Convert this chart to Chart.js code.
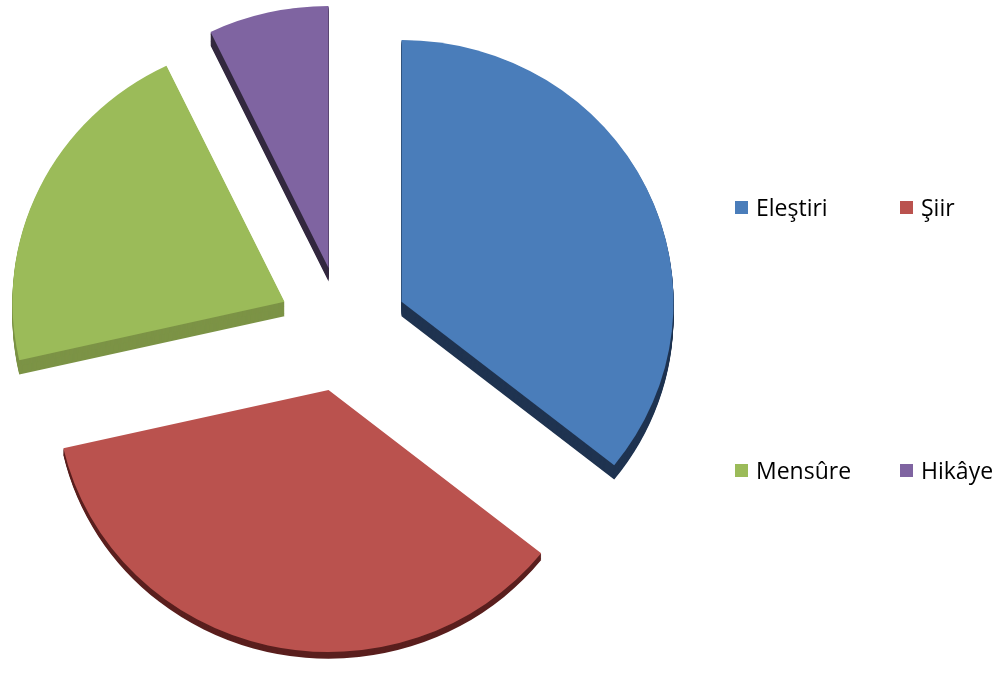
<!DOCTYPE html>
<html lang="tr">
<head>
    <meta charset="UTF-8">
    <title>Pie</title>
    <script src="https://cdn.jsdelivr.net/npm/chart.js@4.4.1/dist/chart.umd.min.js"></script>
    <style>
        body {
            margin: 0;
            background: #fff;
        }
        .wrap {
            position: relative;
            width: 1002px;
            height: 673px;
        }
        #legend {
            position: absolute;
            left: 735px;
            top: 191px;
            display: grid;
            grid-template-columns: 165px 120px;
            row-gap: 231px;
            font-family: "Open Sans", sans-serif;
            font-size: 23px;
            font-variant-ligatures: none;
            color: #000;
        }
        .item {
            display: flex;
            align-items: center;
            height: 32px;
        }
        .box {
            width: 13px;
            height: 13px;
            margin-right: 8px;
        }
    </style>
</head>
<body>
<div class="wrap">
    <canvas id="pie" width="1002" height="673"></canvas>
    <div id="legend"></div>
</div>
<script>
    const labels = ['Eleştiri', 'Şiir', 'Mensûre', 'Hikâye'];
    const values = [5, 5, 3, 1];
    const colors = ['#4a7dba', '#ba524e', '#9bbb59', '#7f64a1'];
    const sideColors = ['#1f3350', '#5a1f1e', '#7c9346', '#33283f'];
    const sideDepth = [15, 7, 15, 14]; // front slice looks thinner in the original

    const explode = 65;   // how far each slice is pulled out
    const squash = 0.963; // slight tilt

    // draws the slices pulled apart with a dark side under them
    const pie3d = {
        id: 'pie3d',
        beforeDatasetDraw(chart, args) {
            const ctx = chart.ctx;
            const arcs = args.meta.data;
            const cx = arcs[0].x, cy = arcs[0].y;
            ctx.save();
            ctx.translate(cx, cy);
            ctx.scale(1, squash);
            ctx.translate(-cx, -cy);

            arcs.forEach((arc, i) => {
                const mid = (arc.startAngle + arc.endAngle) / 2;
                const dx = Math.cos(mid) * explode;
                const dy = Math.sin(mid) * explode;
                ctx.fillStyle = sideColors[i];
                for (let k = sideDepth[i]; k >= 1; k--) {
                    ctx.beginPath();
                    ctx.moveTo(arc.x + dx, arc.y + dy + k);
                    ctx.arc(arc.x + dx, arc.y + dy + k, arc.outerRadius, arc.startAngle, arc.endAngle);
                    ctx.closePath();
                    ctx.fill();
                }
            });

            arcs.forEach(arc => {
                const mid = (arc.startAngle + arc.endAngle) / 2;
                ctx.save();
                ctx.translate(Math.cos(mid) * explode, Math.sin(mid) * explode);
                arc.draw(ctx);
                ctx.restore();
            });

            ctx.restore();
            return false;
        }
    };

    new Chart(document.getElementById('pie'), {
        type: 'pie',
        data: {
            labels: labels,
            datasets: [{
                data: values,
                backgroundColor: colors,
                borderWidth: 0,
                clip: false
            }]
        },
        options: {
            responsive: false,
            animation: false,
            layout: {
                padding: { left: 71, right: 387, top: 57, bottom: 72 }
            },
            plugins: {
                legend: { display: false },
                tooltip: { enabled: false }
            }
        },
        plugins: [pie3d]
    });

    // legend in two columns like the original
    const legend = document.getElementById('legend');
    labels.forEach((name, i) => {
        const item = document.createElement('div');
        item.className = 'item';
        item.innerHTML = '<span class="box" style="background:' + colors[i] + '"></span><span>' + name + '</span>';
        legend.appendChild(item);
    });
</script>
</body>
</html>
